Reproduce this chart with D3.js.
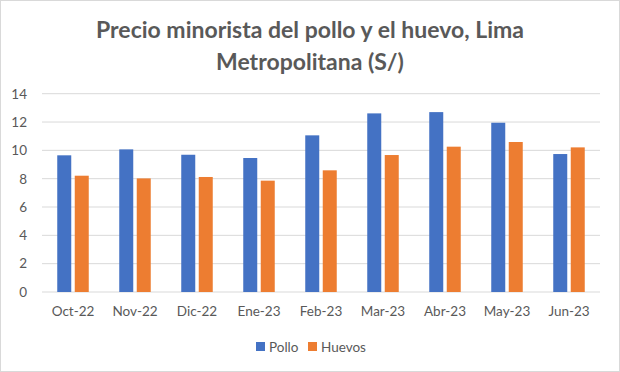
<!DOCTYPE html>
<html><head><meta charset="utf-8">
<script src="https://cdn.jsdelivr.net/npm/d3@7"></script>
<style>body{margin:0;background:#fff}svg{display:block}</style>
</head><body>
<svg id="c" width="620" height="372"></svg>
<script>
const categories = ["Oct-22","Nov-22","Dic-22","Ene-23","Feb-23","Mar-23","Abr-23","May-23","Jun-23"];
const seriesNames = ["Pollo","Huevos"];
const pollo = [9.65,10.07,9.69,9.46,11.06,12.61,12.70,11.95,9.74];
const huevos = [8.21,8.02,8.12,7.86,8.59,9.67,10.26,10.59,10.21];
const yTicks = [0,2,4,6,8,10,12,14];
const colors = ["#4472C4","#ED7D31"];

const svg = d3.select("#c");
const font = "Lato, 'Open Sans', sans-serif";
svg.append("rect").attr("x",0.5).attr("y",0.5).attr("width",619).attr("height",371)
  .attr("fill","#fff").attr("stroke","#d9d9d9");

const x = d3.scaleBand().domain(categories).range([42,600]);
const y = d3.scaleLinear().domain([0,14]).range([292,93.7]);

svg.append("g").selectAll("line").data(yTicks).join("line")
  .attr("x1",42).attr("x2",600).attr("y1",d=>y(d)).attr("y2",d=>y(d))
  .attr("stroke","#d9d9d9").attr("stroke-width",1);

const yAxis = d3.axisLeft(y).tickValues(yTicks).tickSize(0).tickPadding(15);
const gy = svg.append("g").attr("transform","translate(42,0)").call(yAxis);
gy.select(".domain").remove();
gy.selectAll("text").attr("fill","#595959").style("font-family",font).style("font-size","13.5px");

const xAxis = d3.axisBottom(x).tickSize(0).tickPadding(14);
const gx = svg.append("g").attr("transform","translate(0,292)").call(xAxis);
gx.select(".domain").remove();
gx.selectAll("text").attr("fill","#595959").style("font-family",font).style("font-size","13.5px");

const bw = 14, gap = 3.5;
const data = [pollo, huevos];
data.forEach((vals,si)=>{
  svg.append("g").selectAll("rect").data(vals).join("rect")
    .attr("x",(d,i)=>x(categories[i]) + x.bandwidth()/2 + (si===0 ? -bw-gap/2 : gap/2))
    .attr("y",d=>y(d)).attr("width",bw).attr("height",d=>y(0)-y(d))
    .attr("fill",colors[si]);
});

const title = svg.append("text").attr("text-anchor","middle").attr("fill","#595959")
  .style("font-family",font).style("font-weight","bold").style("font-size","23px");
title.append("tspan").attr("x",310).attr("y",38).text("Precio minorista del pollo y el huevo, Lima");
title.append("tspan").attr("x",310).attr("y",70).text("Metropolitana (S/)");

const legX = [256,308];
seriesNames.forEach((n,i)=>{
  svg.append("rect").attr("x",legX[i]).attr("y",342).attr("width",9).attr("height",9).attr("fill",colors[i]);
  svg.append("text").attr("x",legX[i]+13).attr("y",351.5).text(n).attr("fill","#595959")
    .style("font-family",font).style("font-size","13.5px");
});
</script>
</body></html>
